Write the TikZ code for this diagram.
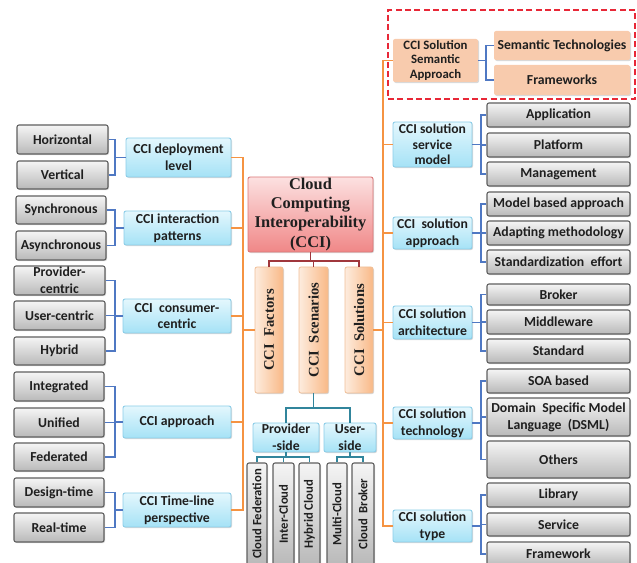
\documentclass[tikz,border=0pt]{standalone}
\usepackage{fontspec}
\setmainfont{Carlito}
\newfontfamily\serifb{Liberation Serif}
\usetikzlibrary{shadows,calc}
\definecolor{gtop}{RGB}{245,245,245}
\definecolor{gbot}{RGB}{185,185,185}
\definecolor{gbd}{RGB}{95,95,95}
\definecolor{btop}{RGB}{228,247,253}
\definecolor{bbot}{RGB}{165,226,246}
\definecolor{bbd}{RGB}{140,205,232}
\definecolor{mtop}{RGB}{252,225,225}
\definecolor{mbot}{RGB}{240,135,135}
\definecolor{mbd}{RGB}{220,120,120}
\definecolor{oleft}{RGB}{253,236,222}
\definecolor{oright}{RGB}{249,185,135}
\definecolor{obd}{RGB}{240,190,150}
\definecolor{peach}{RGB}{248,203,173}
\definecolor{ocon}{RGB}{245,147,66}
\definecolor{bcon}{RGB}{79,120,195}
\definecolor{tcon}{RGB}{49,133,156}
\definecolor{rcon}{RGB}{160,55,60}
\definecolor{dred}{RGB}{232,40,55}
\tikzset{
  rect/.style n args={4}{minimum width={(#3-#1)*0.75pt}, minimum height={(#4-#2)*0.75pt},
    at={({(#1+#3)/2},{(#2+#4)/2})}},
  base/.style={inner sep=0pt, align=center, text=black!88,
    font=\bfseries\fontsize{10.3}{12.6}\selectfont},
  shad/.style={drop shadow={shadow xshift=0.8pt, shadow yshift=-0.8pt, opacity=0.3}},
  gbox/.style={base, shad, draw=gbd, line width=0.8pt, top color=gtop, bottom color=gbot, rounded corners=1.5pt},
  gvbox/.style={gbox, font=\bfseries\fontsize{9.5}{11}\selectfont},
  bbox/.style={base, shad, draw=bbd, line width=0.7pt, top color=btop, bottom color=bbot, rounded corners=1.5pt},
  pbox/.style={base, fill=peach, rounded corners=1.5pt, shad},
  mbox/.style={base, shad, draw=mbd, line width=0.7pt, top color=mtop, bottom color=mbot, rounded corners=1.5pt,
    font=\serifb\bfseries\fontsize{12.3}{14.3}\selectfont},
  obox/.style={base, shad, draw=obd, line width=0.6pt, left color=oleft, right color=oright, rounded corners=1.5pt,
    font=\serifb\bfseries\fontsize{11}{13}\selectfont},
  oc/.style={draw=ocon, line width=1.1pt},
  bc/.style={draw=bcon, line width=1.1pt},
  tc/.style={draw=tcon, line width=1.1pt},
  rc/.style={draw=rcon, line width=1.1pt},
  dashbox/.style={draw=dred, line width=1.3pt, dash pattern=on 4.5pt off 2.5pt, inner sep=0pt},
}
\begin{document}
\begin{tikzpicture}[x=0.75pt,y=-0.75pt]
\useasboundingbox (0,0) rectangle (637,563);
% left gray
\node[gbox, rect={17}{125}{108}{154}] (hor) {Horizontal};
\node[gbox, rect={17}{161}{108}{189}] (ver) {Vertical};
\node[gbox, rect={16}{196}{106}{224}] (syn) {Synchronous};
\node[gbox, rect={16}{231}{106}{260}] (asy) {Asynchronous};
\node[gbox, rect={14}{266}{105}{295}] (pc) {Provider-\\centric};
\node[gbox, rect={14}{301}{105}{330}] (uc) {User-centric};
\node[gbox, rect={14}{337}{105}{365}] (hyb) {Hybrid};
\node[gbox, rect={14}{372}{104}{401}] (int) {Integrated};
\node[gbox, rect={14}{408}{104}{437}] (uni) {Unified};
\node[gbox, rect={14}{443}{104}{471}] (fed) {Federated};
\node[gbox, rect={14}{478}{104}{507}] (des) {Design-time};
\node[gbox, rect={14}{513}{104}{542}] (rea) {Real-time};
% left blue
\node[bbox, rect={126}{138}{231}{177}] (dep) {CCI deployment\\level};
\node[bbox, rect={124}{211}{231}{245}] (ip) {CCI interaction\\patterns};
\node[bbox, rect={123}{299}{231}{333}] (cc) {CCI~ consumer-\\centric};
\node[bbox, rect={123}{406}{231}{438}] (ap) {CCI approach};
\node[bbox, rect={123}{493}{231}{527}] (tl) {CCI Time-line\\perspective};
% center
\node[mbox, rect={248}{177}{373}{252}] (main) {Cloud\\Computing\\Interoperability\\(CCI)};
\node[obox, rect={255}{267}{283}{393}] (fac) {\rotatebox{90}{CCI~ Factors}};
\node[obox, rect={299}{267}{328}{393}] (scn) {\rotatebox{90}{CCI~ Scenarios}};
\node[obox, rect={345}{267}{373}{393}] (sol) {\rotatebox{90}{CCI~ Solutions}};
\node[bbox, rect={253}{423}{319}{452}] (prov) {Provider\\-side};
\node[bbox, rect={324}{423}{376}{452}] (user) {User-\\side};
\node[gvbox, rect={247}{463}{267}{565}] (cf) {\rotatebox{90}{Cloud Federation}};
\node[gvbox, rect={273}{463}{294}{565}] (ic) {\rotatebox{90}{Inter-Cloud}};
\node[gvbox, rect={299}{463}{320}{565}] (hc) {\rotatebox{90}{Hybrid Cloud}};
\node[gvbox, rect={327}{463}{347}{565}] (mc) {\rotatebox{90}{Multi-Cloud}};
\node[gvbox, rect={352}{463}{374}{565}] (cb) {\rotatebox{90}{Cloud~ Broker}};
% right
\node[dashbox, rect={388}{10}{635}{99}] (grp) {};
\node[pbox, rect={393}{39}{478}{82}, font=\bfseries\fontsize{9.6}{11}\selectfont] (sem) {CCI Solution\\Semantic\\Approach};
\node[pbox, rect={494}{31}{630}{60}] (st) {Semantic Technologies};
\node[pbox, rect={494}{65}{630}{95}] (fw) {Frameworks};
\node[bbox, rect={393}{122}{472}{167}, font=\bfseries\fontsize{10.2}{11.8}\selectfont] (sm) {CCI solution\\service\\model};
\node[gbox, rect={487}{103}{630}{127}] (app) {Application};
\node[gbox, rect={487}{133}{630}{157}] (plat) {Platform};
\node[gbox, rect={487}{162}{630}{186}] (man) {Management};
\node[bbox, rect={393}{217}{472}{249}] (sa) {CCI~ solution\\approach};
\node[gbox, rect={487}{192}{630}{216}] (mba) {Model based approach};
\node[gbox, rect={487}{221}{630}{245}] (adm) {Adapting methodology};
\node[gbox, rect={487}{250}{630}{274}] (std) {Standardization~ effort};
\node[bbox, rect={393}{306}{472}{339}] (arch) {CCI solution\\architecture};
\node[gbox, rect={487}{284}{630}{305}] (bro) {Broker};
\node[gbox, rect={487}{310}{630}{334}] (mid) {Middleware};
\node[gbox, rect={487}{339}{630}{363}] (stn) {Standard};
\node[bbox, rect={393}{407}{472}{439}] (tech) {CCI solution\\technology};
\node[gbox, rect={487}{369}{630}{393}] (soa) {SOA based};
\node[gbox, rect={487}{398}{630}{436}] (dsml) {Domain~ Specific Model\\Language~ (DSML)};
\node[gbox, rect={487}{441}{630}{478}] (oth) {Others};
\node[bbox, rect={393}{510}{472}{542}] (typ) {CCI solution\\type};
\node[gbox, rect={487}{483}{630}{507}] (lib) {Library};
\node[gbox, rect={487}{513}{630}{536}] (ser) {Service};
\node[gbox, rect={487}{542}{630}{566}] (fra) {Framework};
% junction coordinates
\coordinate (jL) at (115,0);
\coordinate (jR) at (481,0);
\coordinate (jS) at (486,0);
\coordinate (oL) at (243,0);
\coordinate (oR) at (383,0);
\coordinate (rj) at (310,261);
\coordinate (tj) at (313.5,408);
\coordinate (pj) at (286,457);
\coordinate (uj) at (350,457);
% left blue connectors
\draw[bc] (hor.east) -- (hor.east -| jL) |- (ver.east);
\draw[bc] (dep.west) -- (dep.west -| jL);
\draw[bc] (syn.east) -- (syn.east -| jL) |- (asy.east);
\draw[bc] (ip.west) -- (ip.west -| jL);
\draw[bc] (pc.east) -- (pc.east -| jL) |- (hyb.east);
\draw[bc] (uc.east) -- (uc.east -| jL);
\draw[bc] (cc.west) -- (cc.west -| jL);
\draw[bc] (int.east) -- (int.east -| jL) |- (fed.east);
\draw[bc] (uni.east) -- (uni.east -| jL);
\draw[bc] (ap.west) -- (ap.west -| jL);
\draw[bc] (des.east) -- (des.east -| jL) |- (rea.east);
\draw[bc] (tl.west) -- (tl.west -| jL);
% left orange
\draw[oc] (dep.east) -- (dep.east -| oL) |- (tl.east);
\draw[oc] (ip.east) -- (ip.east -| oL);
\draw[oc] (cc.east) -- (cc.east -| oL);
\draw[oc] (ap.east) -- (ap.east -| oL);
\draw[oc] (fac.west) -- (fac.west -| oL);
% right orange
\draw[oc] (sem.west) -- (sem.west -| oR) |- (typ.west);
\draw[oc] (sm.west) -- (sm.west -| oR);
\draw[oc] (sa.west) -- (sa.west -| oR);
\draw[oc] (arch.west) -- (arch.west -| oR);
\draw[oc] (tech.west) -- (tech.west -| oR);
\draw[oc] (sol.east) -- (sol.east -| oR);
% right blue
\draw[bc] (st.west) -- (st.west -| jS) |- (fw.west);
\draw[bc] (sem.east) -- (sem.east -| jS);
\draw[bc] (app.west) -- (app.west -| jR) |- (man.west);
\draw[bc] (plat.west) -- (plat.west -| jR);
\draw[bc] (sm.east) -- (sm.east -| jR);
\draw[bc] (mba.west) -- (mba.west -| jR) |- (std.west);
\draw[bc] (adm.west) -- (adm.west -| jR);
\draw[bc] (sa.east) -- (sa.east -| jR);
\draw[bc] (bro.west) -- (bro.west -| jR) |- (stn.west);
\draw[bc] (mid.west) -- (mid.west -| jR);
\draw[bc] (arch.east) -- (arch.east -| jR);
\draw[bc] (soa.west) -- (soa.west -| jR) |- (oth.west);
\draw[bc] (dsml.west) -- (dsml.west -| jR);
\draw[bc] (tech.east) -- (tech.east -| jR);
\draw[bc] (lib.west) -- (lib.west -| jR) |- (fra.west);
\draw[bc] (ser.west) -- (ser.west -| jR);
\draw[bc] (typ.east) -- (typ.east -| jR);
% center red
\draw[rc] (main.south) -- (main.south |- rj);
\draw[rc] (fac.north) |- (rj) -| (sol.north);
\draw[rc] (scn.north) -- (scn.north |- rj);
% teal
\draw[tc] (scn.south) -- (tj);
\draw[tc] (prov.north) |- (tj) -| (user.north);
\draw[tc] (prov.south) -- (pj);
\draw[tc] (cf.north) |- (pj) -| (hc.north);
\draw[tc] (ic.north) -- (ic.north |- pj);
\draw[tc] (user.south) -- (uj);
\draw[tc] (mc.north) |- (uj) -| (cb.north);
\end{tikzpicture}
\end{document}
